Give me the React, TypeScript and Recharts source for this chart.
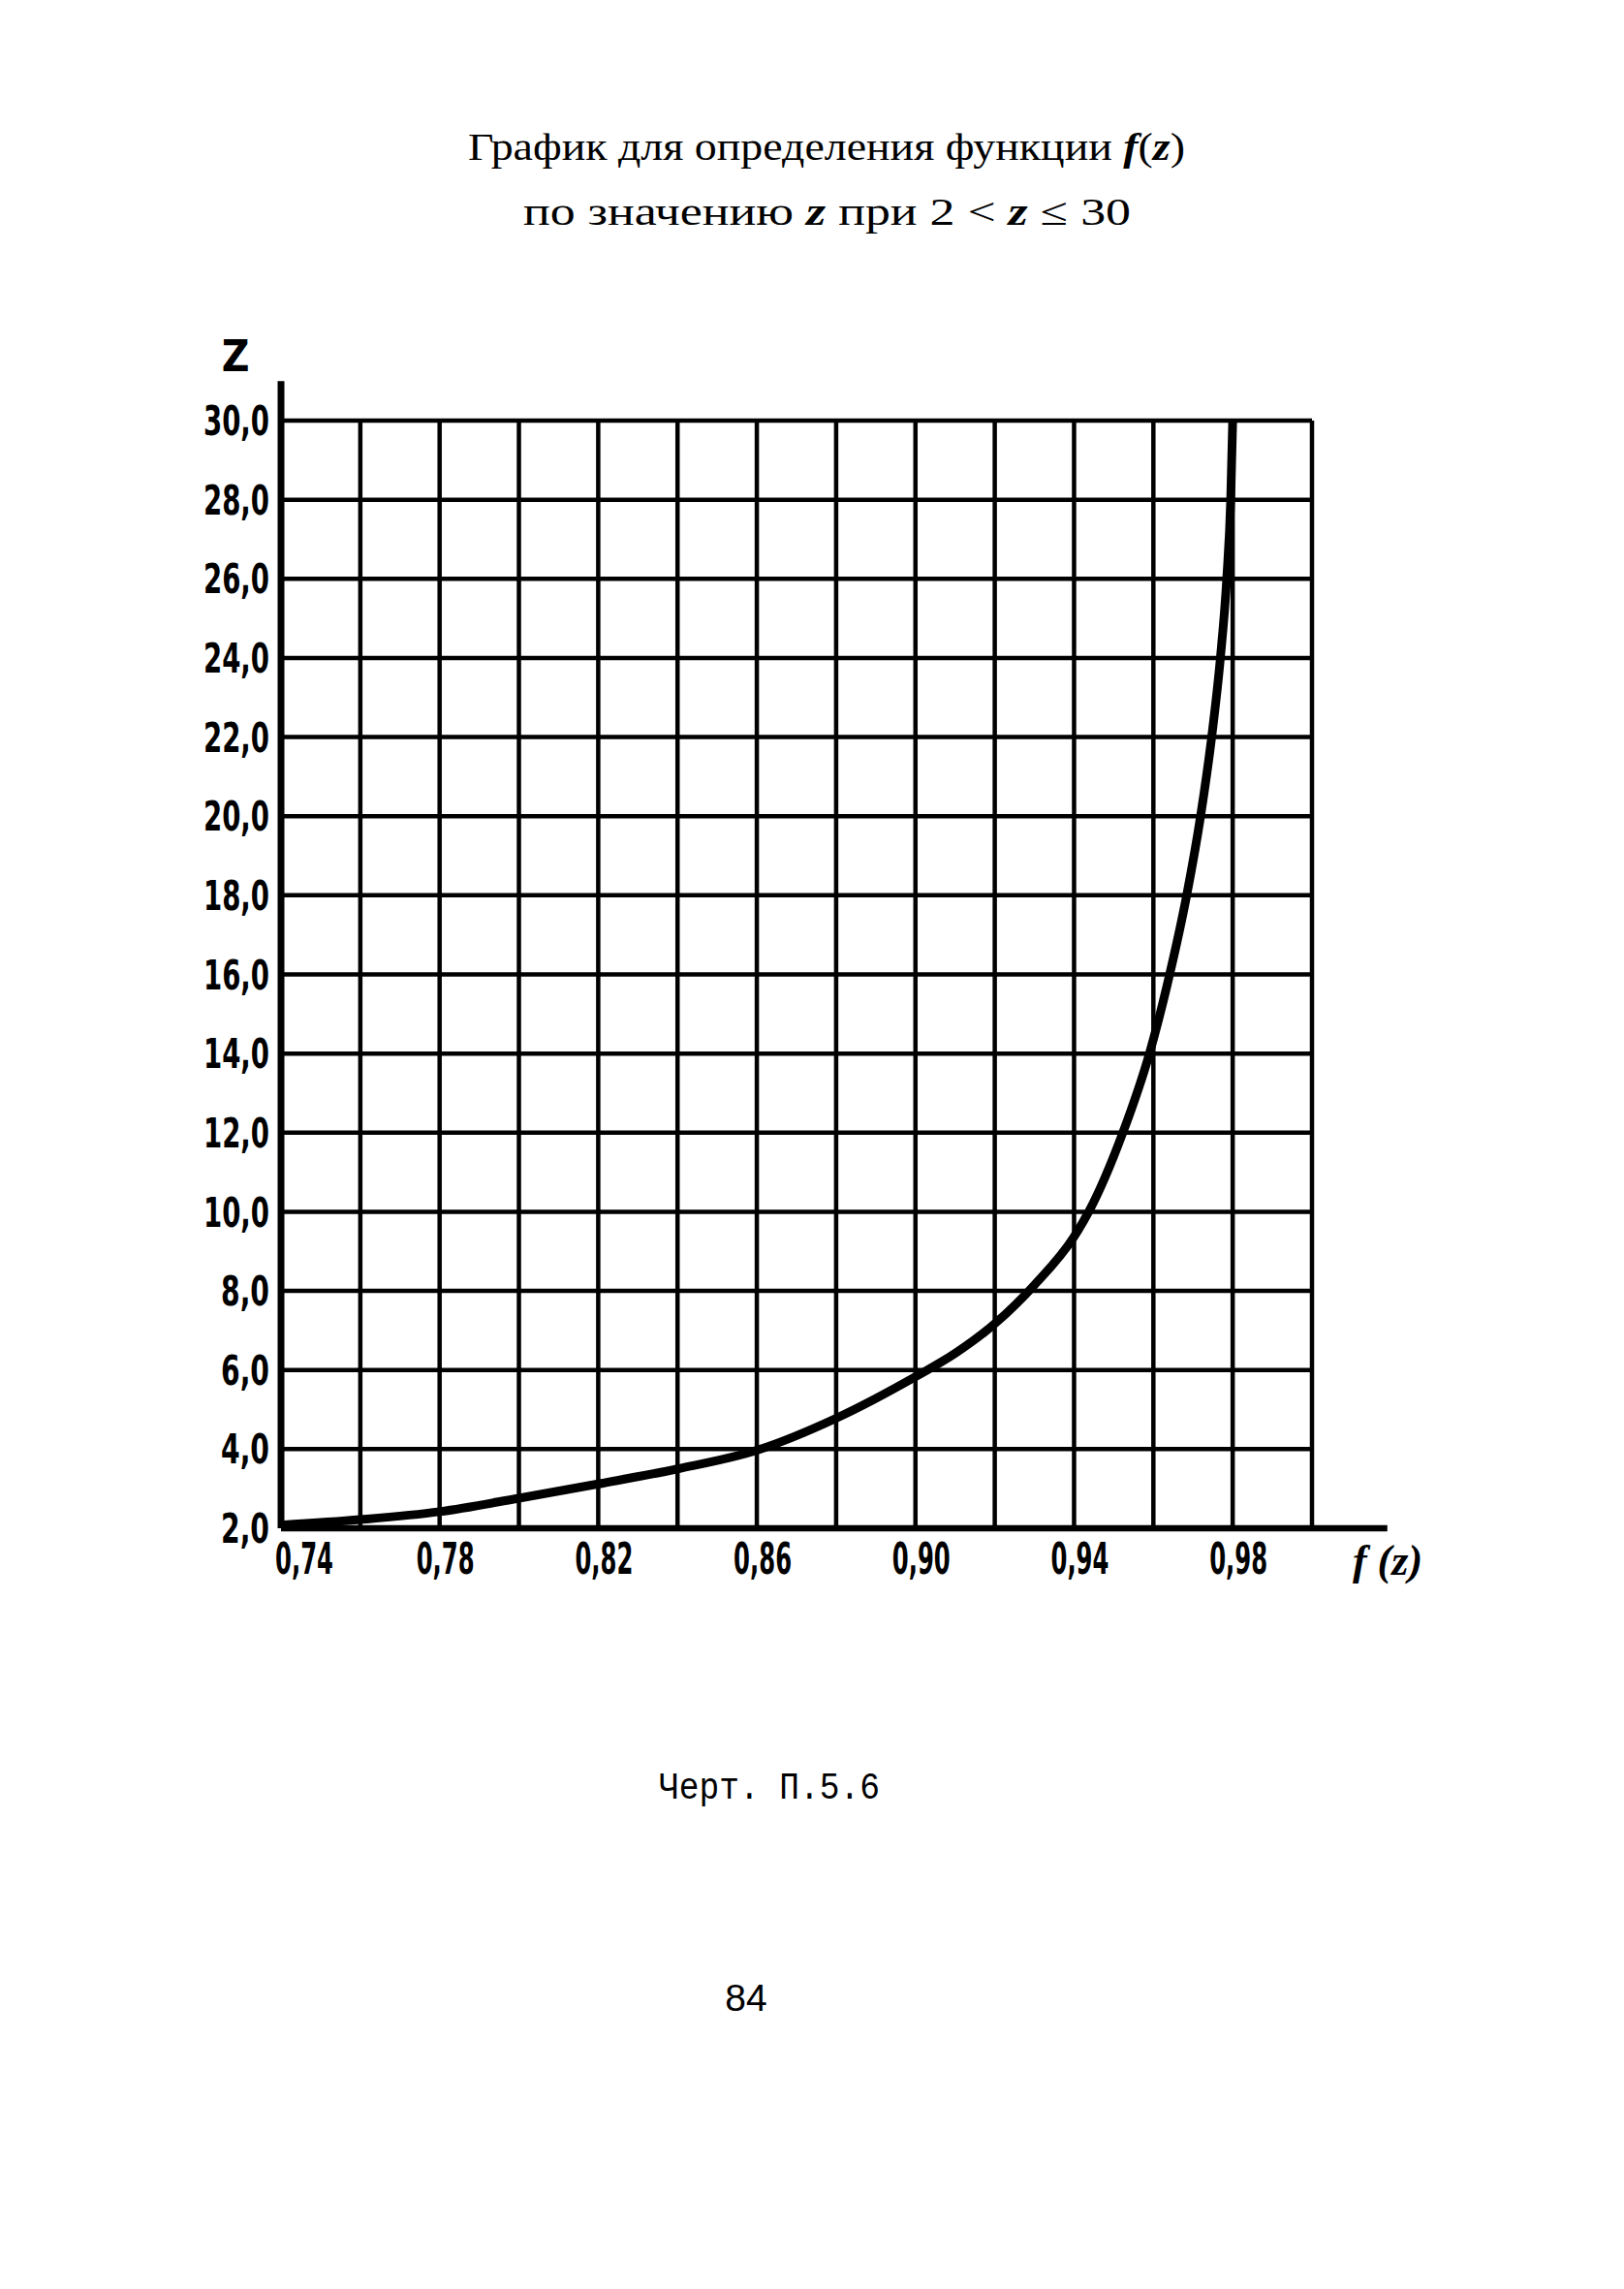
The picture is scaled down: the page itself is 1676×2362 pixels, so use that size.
import React from 'react';
import { LineChart, Line, XAxis, YAxis, CartesianGrid, ReferenceLine } from 'recharts';

// f(z) values (horizontal) and matching z values (vertical)
const fzValues = [0.74, 0.76, 0.78, 0.8, 0.82, 0.84, 0.86, 0.88, 0.9, 0.91, 0.92, 0.93, 0.94, 0.9437, 0.9523, 0.959, 0.9641, 0.9684, 0.9719, 0.9747, 0.9769, 0.9785, 0.9795, 0.98];
const zValues = [2.08, 2.22, 2.42, 2.76, 3.12, 3.5, 3.97, 4.78, 5.83, 6.42, 7.17, 8.15, 9.37, 10.0, 12.0, 14.0, 16.0, 18.0, 20.0, 22.0, 24.0, 26.0, 28.0, 30.0];

const xTicks = [0.74, 0.76, 0.78, 0.8, 0.82, 0.84, 0.86, 0.88, 0.9, 0.92, 0.94, 0.96, 0.98, 1.0];
const xLabeled = [0.74, 0.78, 0.82, 0.86, 0.9, 0.94, 0.98];
const yTicks = [2, 4, 6, 8, 10, 12, 14, 16, 18, 20, 22, 24, 26, 28, 30];

const data = fzValues.map((f, i) => ({ f, z: zValues[i] }));

const tickFont = "'Liberation Sans Narrow', 'DejaVu Sans Condensed', 'Roboto Condensed', sans-serif";

const fmt = (v: number, digits: number) => v.toFixed(digits).replace('.', ',');

const XTick = (props: any) => {
  const { x, y, payload } = props;
  const v = Math.round(payload.value * 100) / 100;
  if (!xLabeled.some((t) => Math.abs(t - v) < 1e-6)) return null;
  const first = Math.abs(v - 0.74) < 1e-6;
  return (
    <text
      x={first ? x - 6 : x + 6}
      y={y}
      dy="0.71em"
      textAnchor={first ? 'start' : 'middle'}
      fontFamily={tickFont}
      fontWeight="bold"
      fontSize={44}
      textLength={60}
      lengthAdjust="spacingAndGlyphs"
      fill="#000"
    >
      {fmt(v, 2)}
    </text>
  );
};

const YTick = (props: any) => {
  const { x, y, payload } = props;
  const label = fmt(payload.value, 1);
  return (
    <text
      x={x}
      y={y}
      dy="0.36em"
      textAnchor="end"
      fontFamily={tickFont}
      fontWeight="bold"
      fontSize={42}
      textLength={label.length > 3 ? 68 : 50}
      lengthAdjust="spacingAndGlyphs"
      fill="#000"
    >
      {label}
    </text>
  );
};

export default function App() {
  return (
    <div style={{ position: 'absolute', left: 0, top: 0, width: 1676, height: 2362, background: '#fff' }}>
      <div style={{ position: 'absolute', left: 0, top: 0 }}>
        <LineChart
          width={1676}
          height={1700}
          data={data}
          margin={{ top: 434, left: 190, right: 322, bottom: 63 }}
        >
          <CartesianGrid stroke="#000" strokeWidth={4.5} strokeOpacity={1} />
          <XAxis
            dataKey="f"
            type="number"
            domain={[0.74, 1.0]}
            ticks={xTicks}
            interval={0}
            height={60}
            axisLine={false}
            tickLine={false}
            tickSize={0}
            tickMargin={16}
            tick={<XTick />}
            allowDataOverflow
          />
          <YAxis
            type="number"
            domain={[2, 30]}
            ticks={yTicks}
            interval={0}
            width={100}
            axisLine={false}
            tickLine={false}
            tickSize={0}
            tickMargin={12}
            tick={<YTick />}
            allowDataOverflow
          />
          <ReferenceLine
            segment={[{ x: 0.74, y: 2 }, { x: 0.74, y: 31 }]}
            stroke="#000"
            strokeWidth={7}
            ifOverflow="visible"
          />
          <ReferenceLine
            segment={[{ x: 0.74, y: 2 }, { x: 1.019, y: 2 }]}
            stroke="#000"
            strokeWidth={6.5}
            ifOverflow="visible"
          />
          <Line
            type="monotone"
            dataKey="z"
            stroke="#000"
            strokeWidth={9}
            dot={false}
            activeDot={false}
            isAnimationActive={false}
          />
        </LineChart>
      </div>
      <svg
        width={1676}
        height={2362}
        style={{ position: 'absolute', left: 0, top: 0, pointerEvents: 'none' }}
      >
        <text
          x={483}
          y={165}
          fontFamily="'Liberation Serif', 'DejaVu Serif', serif"
          fontSize={40}
          textLength={740}
          lengthAdjust="spacingAndGlyphs"
          fill="#000"
        >
          График для определения функции <tspan fontStyle="italic" fontWeight="bold">f</tspan>(<tspan fontStyle="italic" fontWeight="bold">z</tspan>)
        </text>
        <text
          x={540}
          y={232}
          fontFamily="'Liberation Serif', 'DejaVu Serif', serif"
          fontSize={40}
          textLength={627}
          lengthAdjust="spacingAndGlyphs"
          fill="#000"
        >
          по значению  <tspan fontStyle="italic" fontWeight="bold">z</tspan>  при 2 &lt; <tspan fontStyle="italic" fontWeight="bold">z</tspan> ≤ 30
        </text>
        <text
          x={243}
          y={383}
          textAnchor="middle"
          fontFamily={tickFont}
          fontWeight="bold"
          fontSize={44}
          fill="#000"
        >
          Z
        </text>
        <text
          x={1432}
          y={1625}
          textAnchor="middle"
          fontFamily="'Liberation Serif', 'DejaVu Serif', serif"
          fontStyle="italic"
          fontWeight="bold"
          fontSize={44}
          fill="#000"
        >
          f (z)
        </text>
        <text
          x={680}
          y={1856}
          fontFamily="'Courier New', 'Liberation Mono', 'DejaVu Sans Mono', monospace"
          fontSize={38}
          textLength={228}
          lengthAdjust="spacingAndGlyphs"
          fill="#000"
        >
          Черт. П.5.6
        </text>
        <text
          x={770}
          y={2075}
          textAnchor="middle"
          fontFamily="'Liberation Sans', 'DejaVu Sans', sans-serif"
          fontSize={39}
          fill="#000"
        >
          84
        </text>
      </svg>
    </div>
  );
}
